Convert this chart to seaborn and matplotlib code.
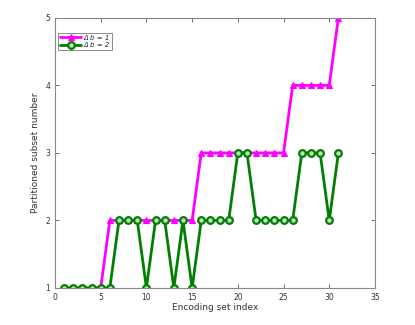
import matplotlib
matplotlib.use("Agg")
import matplotlib.pyplot as plt
import seaborn as sns
import pandas as pd

x_index = list(range(1, 32))
db1 = [1, 1, 1, 1, 1, 2, 2, 2, 2, 2, 2, 2, 2, 2, 2, 3, 3, 3, 3, 3, 3, 3, 3, 3, 3, 4, 4, 4, 4, 4, 5]
db2 = [1, 1, 1, 1, 1, 1, 2, 2, 2, 1, 2, 2, 1, 2, 1, 2, 2, 2, 2, 3, 3, 2, 2, 2, 2, 2, 3, 3, 3, 2, 3]
labels = ["\u0394 b = 1", "\u0394 b = 2"]

sns.set_style("white")
plt.rcParams['font.family'] = ['DejaVu Sans']

fig = plt.figure(figsize=(4.15, 3.25), dpi=100)
ax = fig.add_axes([0.1325, 0.114, 0.771, 0.831])

df1 = pd.DataFrame({"x": x_index, "y": db1})
df2 = pd.DataFrame({"x": x_index, "y": db2})
sns.lineplot(data=df1, x="x", y="y", ax=ax, color="#ff00ff", linewidth=2,
             marker="^", markersize=5, markeredgecolor="#ff00ff", label=labels[0])
sns.lineplot(data=df2, x="x", y="y", ax=ax, color="#007f00", linewidth=2,
             marker="o", markersize=4.8, markerfacecolor="#c8dcc0", markeredgecolor="#007f00",
             markeredgewidth=1.6, label=labels[1])

ax.set_xlim(0, 35)
ax.set_ylim(1, 5)
ax.set_xticks(range(0, 36, 5))
ax.set_yticks([1, 2, 3, 4, 5])
ax.tick_params(direction="in", labelsize=5.5, length=3, width=0.5, colors="#333333",
               top=True, right=True, bottom=True, left=True)
for s in ax.spines.values():
    s.set_visible(True)
    s.set_color("#888888")
    s.set_linewidth(0.8)
ax.set_xlabel("Encoding set index", fontsize=6.5, labelpad=1, color="#333333")
ax.set_ylabel("Partitioned subset number", fontsize=6.5, labelpad=4, color="#333333")

leg = ax.legend(loc="upper left", bbox_to_anchor=(0.01, 0.945), fontsize=5,
                frameon=True, fancybox=False,
                edgecolor="#555555", handlelength=3.0, borderpad=0.3, labelspacing=0.2,
                handletextpad=0.4, borderaxespad=0.0, prop={"style": "italic", "size": 5})
leg.get_frame().set_linewidth(0.6)

fig.savefig("out.png", dpi=100)
